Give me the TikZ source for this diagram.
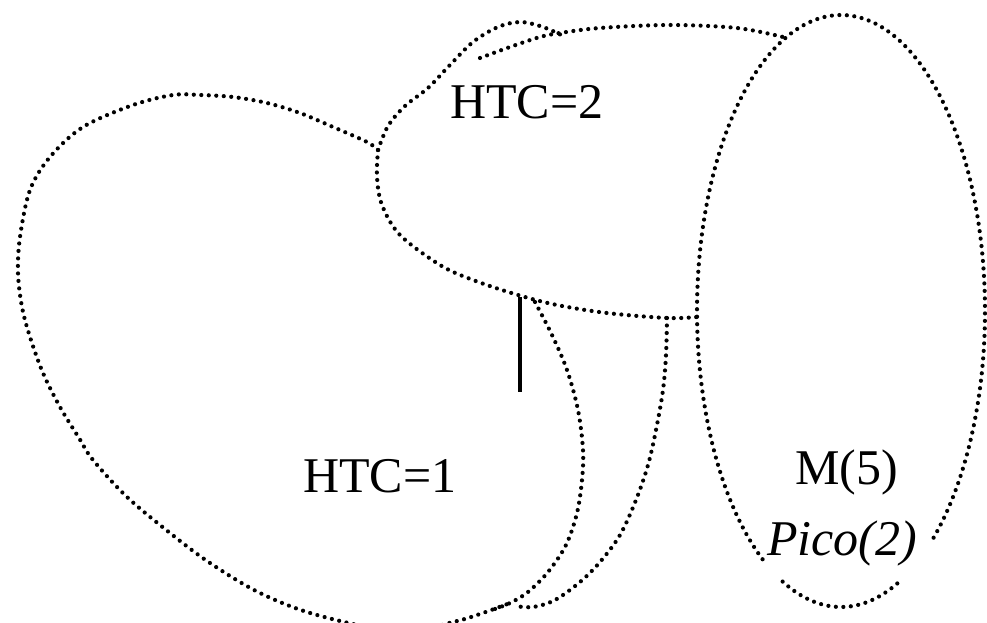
\documentclass[tikz,border=0pt]{standalone}
\usepackage{fontspec}
\setmainfont{Liberation Serif}
\begin{document}
\begin{tikzpicture}[x=1pt,y=-1pt,
  outline/.style={line width=4.2pt, line cap=round, dash pattern=on 0pt off 7.5pt},
  areatext/.style={inner sep=0pt, anchor=base west, font=\fontsize{50}{60}\selectfont},
  marker/.style={line width=3.5pt}]
\useasboundingbox (0,0) rectangle (987,623);

% large left cell (HTC=1)
\draw[outline] plot[smooth, tension=0.55] coordinates {
  (378,150) (367,142) (333,127) (300,113) (267,103) (233,97) (200,95)
  (173,95) (133,105) (83,127) (50,157) (30,190) (20,237) (18,273)
  (22,307) (30,337) (43,373) (60,407) (79,438) (93,460) (127,497)
  (170,533) (210,563) (260,593) (317,615) (400,632) (453,622)
  (480,614) (510,603)};

% upper cell (HTC=2): left bump and lower edge
\draw[outline] plot[smooth, tension=0.55] coordinates {
  (378,150) (388,126) (405,106) (428,88) (449,66) (473,42) (498,27)
  (520,22) (540,26) (555,32) (563,36)};
\draw[outline] plot[smooth, tension=0.55] coordinates {
  (378,150) (377,177) (382,205) (400,235) (440,265) (473,280)
  (518,295) (557,305) (607,313) (667,318) (697,317)};
% upper cell: top edge
\draw[outline] plot[smooth, tension=0.55] coordinates {
  (480,58) (510,47) (540,37) (560,33) (600,28) (670,25) (737,28) (783,37)};

% inner boundary curves
\draw[outline] plot[smooth, tension=0.55] coordinates {
  (535,302) (552,335) (567,370) (578,410) (583,450) (582,480)
  (577,513) (566,545) (548,572) (528,592) (510,603) (492,610)};
\draw[outline] plot[smooth, tension=0.55] coordinates {
  (667,318) (666,355) (663,390) (656,430) (648,465) (636,500)
  (620,535) (600,562) (580,582) (555,600) (533,607) (515,606)};

% right cell: ellipse, broken around the italic label
\draw[outline] plot[domain=123:411.8, samples=140, smooth]
  ({841+144*cos(\x)}, {311+296*sin(\x)});
\draw[outline] plot[domain=67:114, samples=40, smooth]
  ({841+144*cos(\x)}, {311+296*sin(\x)});

% solid marker
\coordinate (mtop) at (520,297);
\coordinate (mbot) at (520,392);
\draw[marker] (mtop) -- (mbot);

% labels
\node[areatext] (htc2) at (450,118) {HTC=2};
\node[areatext] (htc1) at (303,492) {HTC=1};
\node[areatext] (m5) at (795,484) {M(5)};
\node[areatext] (pico) at (767,555) {\itshape Pico(2)};
\end{tikzpicture}
\end{document}
